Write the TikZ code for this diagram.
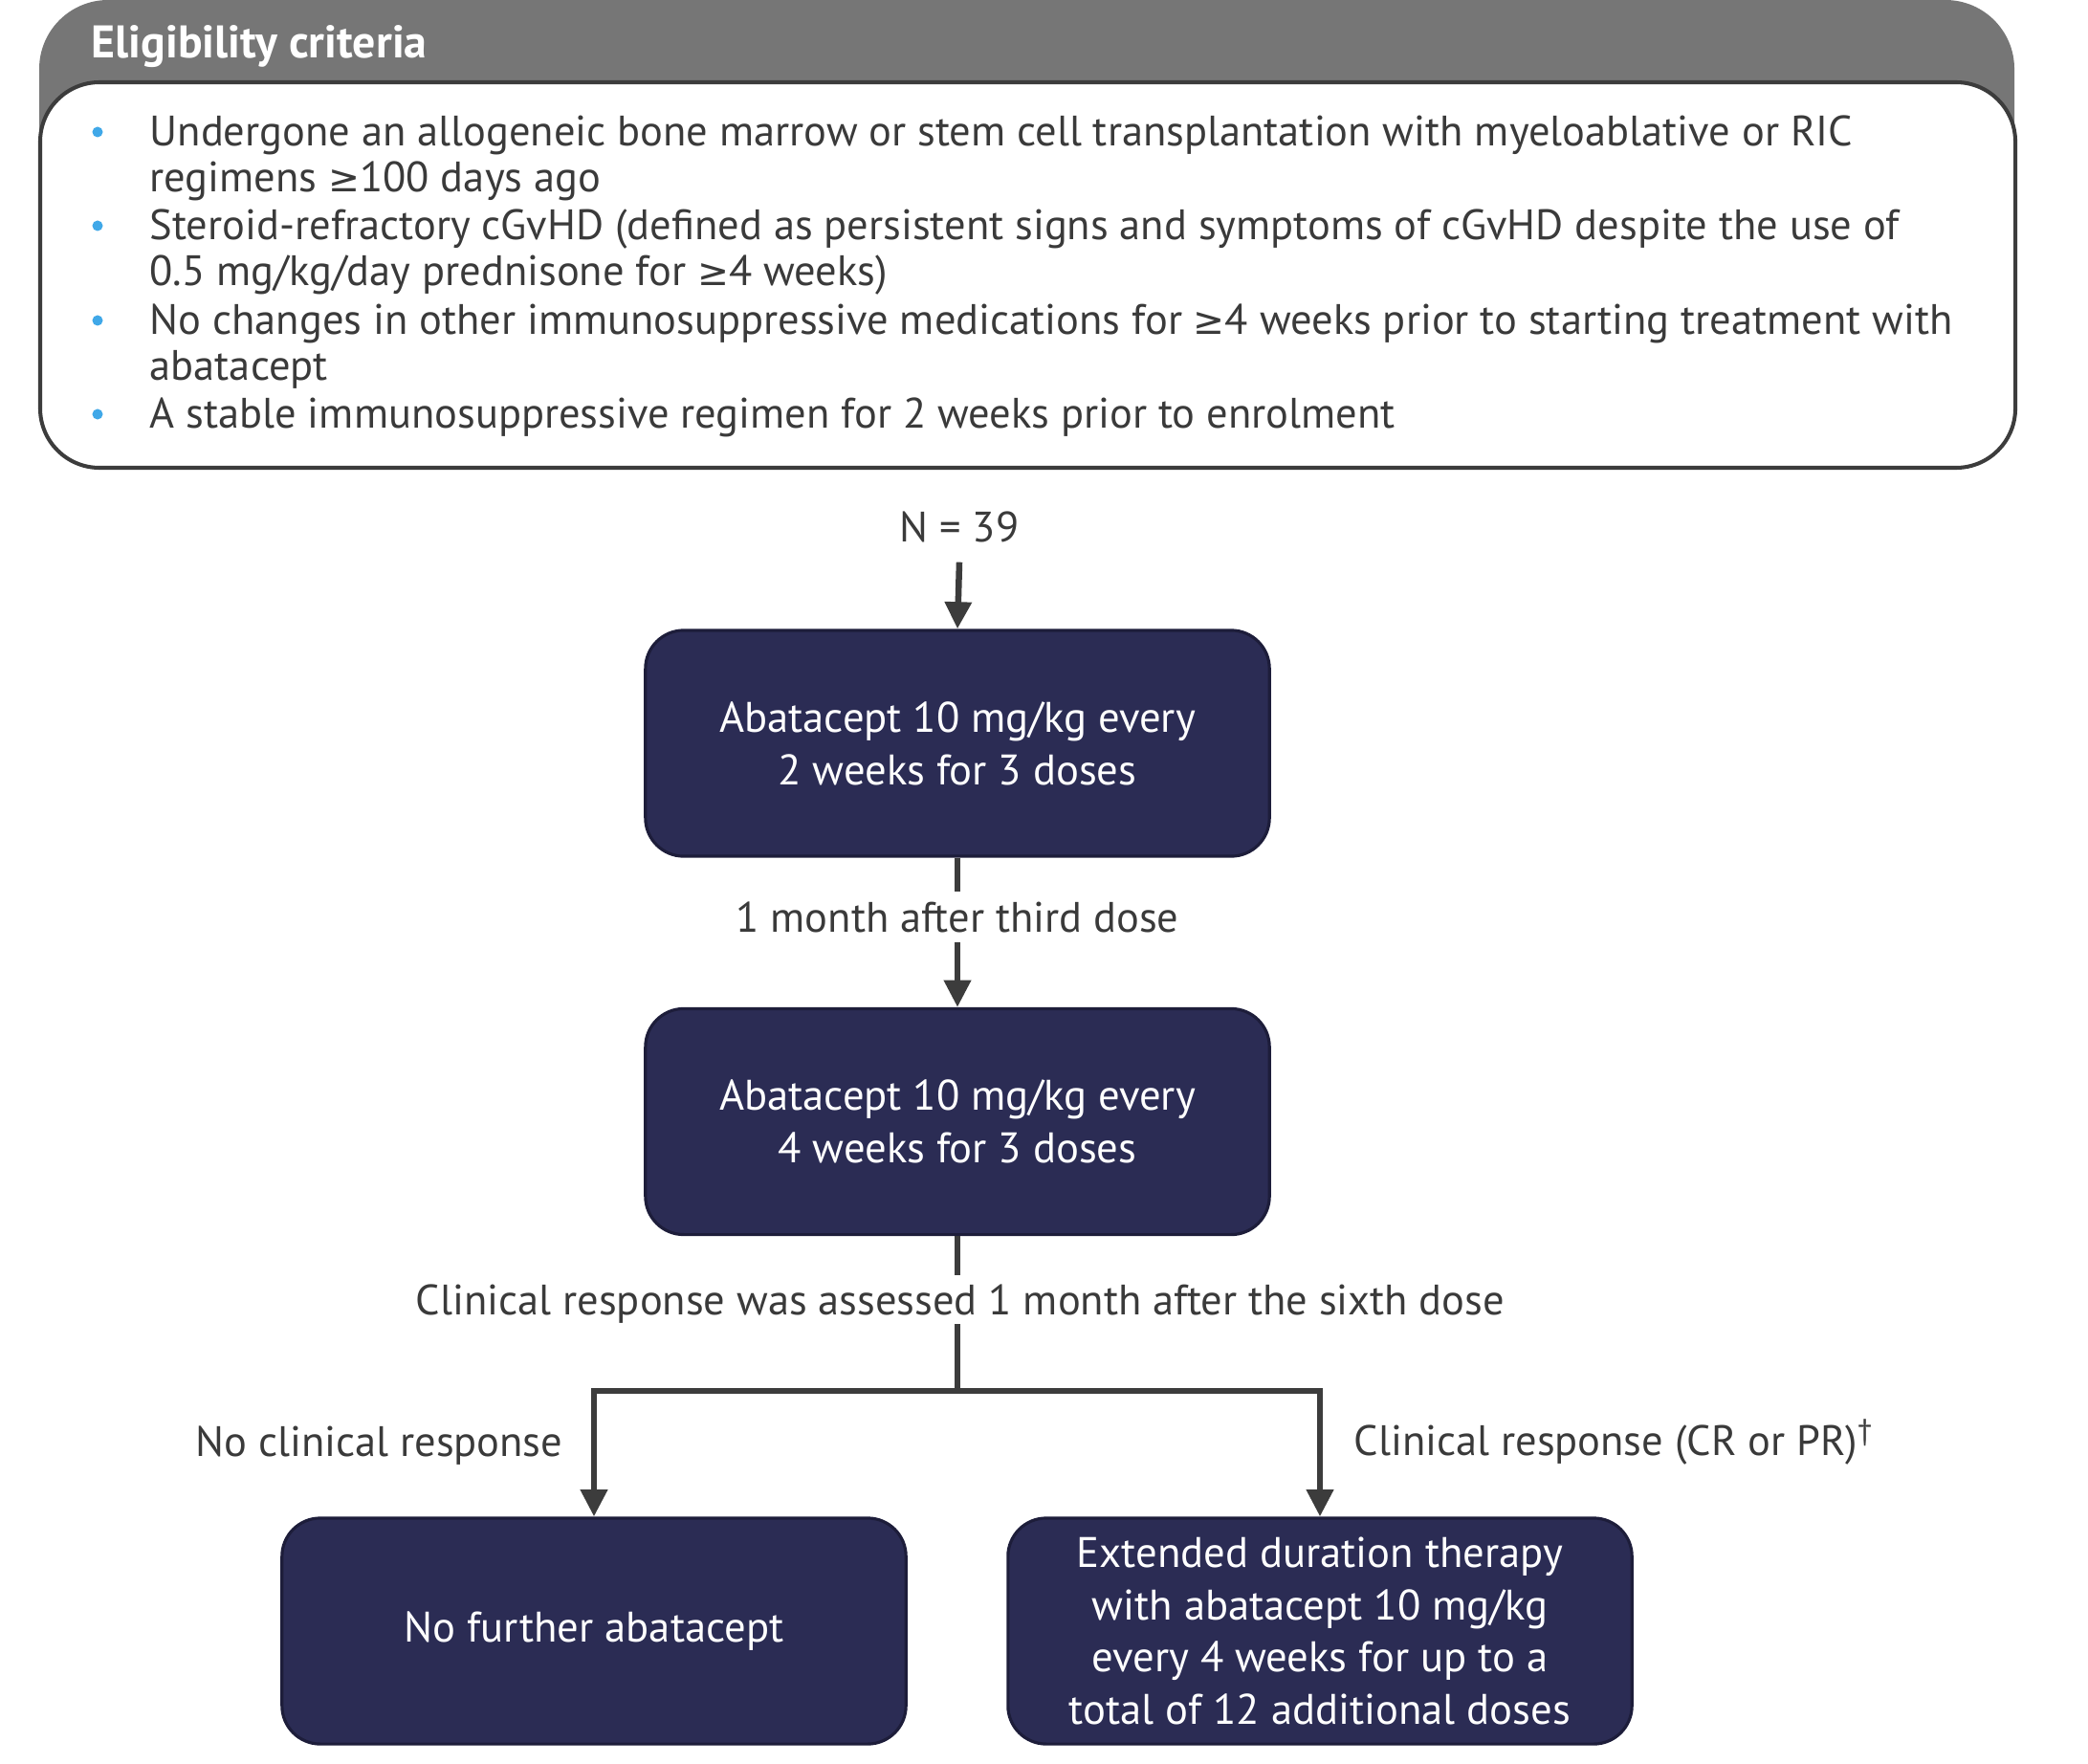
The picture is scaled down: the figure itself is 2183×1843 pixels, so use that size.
\documentclass[tikz,border=0pt]{standalone}
\usepackage{fontspec}
\setmainfont{PT Sans}
\newfontfamily\symfnt{DejaVu Sans}
\newcommand\geqsym{{\symfnt\fontsize{11.2}{14}\selectfont ≥}}
\usetikzlibrary{arrows.meta,calc}
\definecolor{hdrgray}{HTML}{767676}
\definecolor{txtgray}{HTML}{3A3A3A}
\definecolor{navy}{HTML}{2B2C54}
\definecolor{navyedge}{HTML}{1D1D3A}
\definecolor{bulletblue}{HTML}{40A8E8}
\definecolor{linegray}{HTML}{3C3C3C}
\begin{document}
\begin{tikzpicture}[x=0.01cm,y=-0.01cm,
  lbl/.style={text=txtgray, font=\fontsize{12.65}{14}\selectfont, inner sep=0pt, text height=8.8pt, text depth=0pt},
  btxt/.style={text=txtgray, font=\fontsize{12.65}{14}\selectfont, inner sep=0pt, anchor=base west},
  bdot/.style={circle, fill=bulletblue, minimum size=0.11cm, inner sep=0pt},
  flowbox/.style={draw=navyedge, line width=0.9pt, fill=navy, rounded corners=0.4cm,
    minimum width=6.52cm, minimum height=2.36cm, text=white, align=center,
    font=\fontsize{12.7}{15.6}\selectfont, inner sep=0pt},
  conn/.style={draw=linegray, line width=1.85pt},
  arr/.style={draw=linegray, line width=1.85pt, -{Triangle[width=7.7pt,length=8pt]}}]
\useasboundingbox (0,0) rectangle (2183,1843);
% header panel
\fill[hdrgray, rounded corners=0.72cm] (41,0) rectangle (2106,300);
\draw[draw=linegray, line width=1.15pt, fill=white, rounded corners=0.62cm] (42,86) rectangle (2107,489);
\node[anchor=base west, text=white, inner sep=0pt, font=\bfseries\fontsize{13.6}{15}\selectfont] (hdr) at (95,61) {Eligibility criteria};
% bullets
\node[bdot] (d1) at (102,138) {};
\node[bdot] (d2) at (102,236) {};
\node[bdot] (d3) at (102,335) {};
\node[bdot] (d4) at (102,433) {};
\node[btxt] (t1) at (156,153) {Undergone an allogeneic bone marrow or stem cell transplantation with myeloablative or RIC};
\node[btxt] (t2) at (156,201) {regimens \geqsym100 days ago};
\node[btxt] (t3) at (156,251) {Steroid-refractory cGvHD (defined as persistent signs and symptoms of cGvHD despite the use of};
\node[btxt] (t4) at (156,299) {0.5 mg/kg/day prednisone for \geqsym4 weeks)};
\node[btxt] (t5) at (156,350) {No changes in other immunosuppressive medications for \geqsym4 weeks prior to starting treatment with};
\node[btxt] (t6) at (156,398) {abatacept};
\node[btxt] (t7) at (156,448) {A stable immunosuppressive regimen for 2 weeks prior to enrolment};
% flow
\node[lbl, anchor=base] (n) at (1003,566) {N = 39};
\node[flowbox] (b1) at (1001,777) {Abatacept 10 mg/kg every\\2 weeks for 3 doses};
\node[lbl, anchor=base, outer sep=0.11cm] (l1) at (1001,974) {1 month after third dose};
\node[flowbox] (b2) at (1001,1172.5) {Abatacept 10 mg/kg every\\4 weeks for 3 doses};
\node[lbl, anchor=base, outer sep=0.1cm] (l2) at (1004,1374) {Clinical response was assessed 1 month after the sixth dose};
\coordinate (j) at (1001,1454);
\node[flowbox] (nb) at (621,1705) {No further abatacept};
\node[flowbox] (ext) at (1380,1705) {Extended duration therapy\\with abatacept 10 mg/kg\\every 4 weeks for up to a\\total of 12 additional doses};
\node[lbl, anchor=base east] (nolab) at (589,1522) {No clinical response};
\node[lbl, anchor=base west] (yeslab) at (1415,1521) {Clinical response (CR or PR)\textsuperscript{†}};
% connectors
\draw[arr] ($(n.south)+(0,21)$) -- (b1.north);
\draw[conn] (b1.south) -- (l1.north);
\draw[arr] (l1.south) -- (b2.north);
\draw[conn] (b2.south) -- (b2.south |- l2.north);
\draw[arr] (b2.south |- l2.south) -- (j) -| (nb.north);
\draw[arr] (j) -| (ext.north);
\end{tikzpicture}
\end{document}
